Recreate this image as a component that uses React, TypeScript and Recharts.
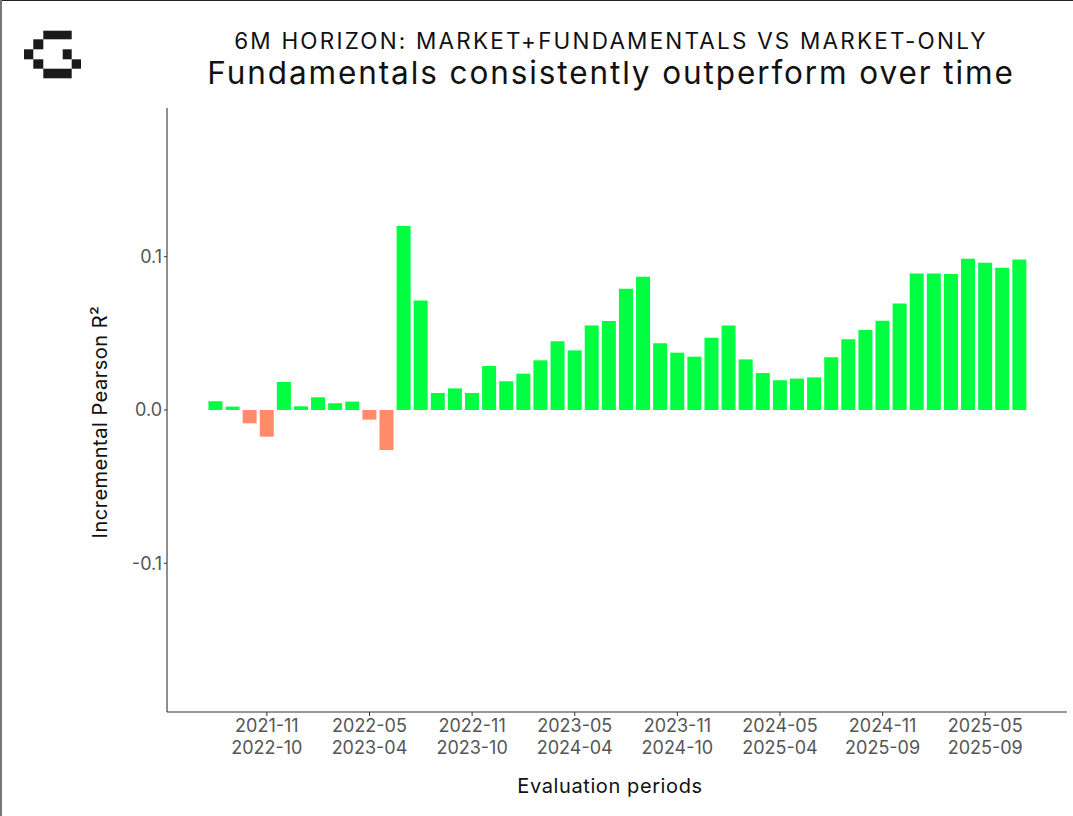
import { BarChart, Bar, XAxis, YAxis, Cell } from 'recharts';

// rolling evaluation windows (start month / end month)
const periodStarts = [
  '2021-08', '2021-09', '2021-10', '2021-11', '2021-12', '2022-01', '2022-02', '2022-03',
  '2022-04', '2022-05', '2022-06', '2022-07', '2022-08', '2022-09', '2022-10', '2022-11',
  '2022-12', '2023-01', '2023-02', '2023-03', '2023-04', '2023-05', '2023-06', '2023-07',
  '2023-08', '2023-09', '2023-10', '2023-11', '2023-12', '2024-01', '2024-02', '2024-03',
  '2024-04', '2024-05', '2024-06', '2024-07', '2024-08', '2024-09', '2024-10', '2024-11',
  '2024-12', '2025-01', '2025-02', '2025-03', '2025-04', '2025-05', '2025-06', '2025-07',
];
const periodEnds = [
  '2022-07', '2022-08', '2022-09', '2022-10', '2022-11', '2022-12', '2023-01', '2023-02',
  '2023-03', '2023-04', '2023-05', '2023-06', '2023-07', '2023-08', '2023-09', '2023-10',
  '2023-11', '2023-12', '2024-01', '2024-02', '2024-03', '2024-04', '2024-05', '2024-06',
  '2024-07', '2024-08', '2024-09', '2024-10', '2024-11', '2024-12', '2025-01', '2025-02',
  '2025-03', '2025-04', '2025-05', '2025-06', '2025-07', '2025-08', '2025-09', '2025-09',
  '2025-09', '2025-09', '2025-09', '2025-09', '2025-09', '2025-09', '2025-09', '2025-09',
];
const incrementalR2 = [
  0.0057, 0.0022, -0.0087, -0.0174, 0.0183, 0.0024, 0.0083, 0.0044,
  0.0055, -0.0063, -0.0261, 0.120, 0.0715, 0.0111, 0.0141, 0.0111,
  0.0287, 0.0187, 0.0237, 0.0324, 0.0448, 0.0389, 0.0552, 0.0580,
  0.0791, 0.0870, 0.0435, 0.0374, 0.0348, 0.0472, 0.0552, 0.0330,
  0.0241, 0.0194, 0.0205, 0.0213, 0.0344, 0.0461, 0.0522, 0.0583,
  0.0694, 0.0891, 0.0891, 0.0887, 0.0987, 0.0961, 0.0928, 0.0982,
];
const labelledStarts = ['2021-11', '2022-05', '2022-11', '2023-05', '2023-11', '2024-05', '2024-11', '2025-05'];
const yTicks = [-0.1, 0, 0.1];

const POS = '#00FF41';
const NEG = '#FF8B68';
const FONT = 'Inter, "Noto Sans", sans-serif';

const data = periodStarts.map((s, i) => ({ period: `${s}|${periodEnds[i]}`, value: incrementalR2[i] }));
const tickKeys = data.filter((d) => labelledStarts.includes(d.period.split('|')[0])).map((d) => d.period);

function PeriodTick({ x, y, payload }: any) {
  const [a, b] = String(payload.value).split('|');
  return (
    <g>
      <text x={x} y={y + 14} textAnchor="middle" fill="#555" fontSize={18} fontFamily={FONT}>{a}</text>
      <text x={x} y={y + 35.5} textAnchor="middle" fill="#555" fontSize={18} fontFamily={FONT}>{b}</text>
    </g>
  );
}

// pixel "G" logo
const logoBlocks = [
  [43.3, 30.7, 28.4, 8.6],
  [33.3, 39.3, 10, 10],
  [24, 49.3, 9.3, 10],
  [62.7, 49.3, 9, 10],
  [33.3, 59.3, 10, 9.4],
  [71.7, 59.3, 9.3, 9.4],
  [43.3, 68.7, 28.4, 9.6],
];

export default function App() {
  return (
    <div style={{ position: 'absolute', left: 0, top: 0, width: 1073, height: 816, background: '#fff', fontFamily: FONT }}>
      <BarChart width={1073} height={816} data={data} margin={{ top: 108, right: 6, bottom: 44, left: 87 }} barCategoryGap="8.5%">
        <XAxis
          dataKey="period"
          ticks={tickKeys}
          interval={0}
          height={60}
          padding={{ left: 40, right: 39 }}
          tick={<PeriodTick />}
          tickSize={4}
          tickMargin={2}
          stroke="#333"
          axisLine={{ stroke: '#333', strokeWidth: 1.1 }}
          tickLine={{ stroke: '#333' }}
        />
        <YAxis
          type="number"
          domain={[-0.197, 0.197]}
          allowDataOverflow
          ticks={yTicks}
          width={80}
          tickSize={3}
          tickMargin={2}
          tickFormatter={(v: number) => v.toFixed(1)}
          tick={{ fill: '#555', fontSize: 18, fontFamily: FONT }}
          axisLine={{ stroke: '#333', strokeWidth: 1.1 }}
          tickLine={{ stroke: '#333' }}
        />
        <Bar dataKey="value" isAnimationActive={false}>
          {data.map((d) => (
            <Cell key={d.period} fill={d.value >= 0 ? POS : NEG} />
          ))}
        </Bar>
      </BarChart>
      <svg width={1073} height={816} style={{ position: 'absolute', left: 0, top: 0, pointerEvents: 'none' }}>
        {logoBlocks.map(([x, y, w, h], i) => (
          <rect key={i} x={x} y={y} width={w} height={h} fill="#1a1a1a" />
        ))}
        <text x={611} y={49} textAnchor="middle" fontSize={22.5} letterSpacing={2.2} fill="#111" fontFamily={FONT}>
          6M HORIZON: MARKET+FUNDAMENTALS VS MARKET-ONLY
        </text>
        <text x={611} y={84} textAnchor="middle" fontSize={31.5} letterSpacing={1.9} fill="#111" fontFamily={FONT}>
          Fundamentals consistently outperform over time
        </text>
        <text x={107} y={422} textAnchor="middle" fontSize={20} letterSpacing={0.5} fill="#111" fontFamily={FONT} transform="rotate(-90 107 422)">
          Incremental Pearson R²
        </text>
        <text x={610} y={793} textAnchor="middle" fontSize={20} letterSpacing={0.6} fill="#111" fontFamily={FONT}>
          Evaluation periods
        </text>
      </svg>
      <div style={{ position: 'absolute', left: 0, top: 0, width: 1073, height: 1, background: '#222' }} />
      <div style={{ position: 'absolute', left: 0, top: 0, width: 2, height: 816, background: '#777' }} />
    </div>
  );
}
